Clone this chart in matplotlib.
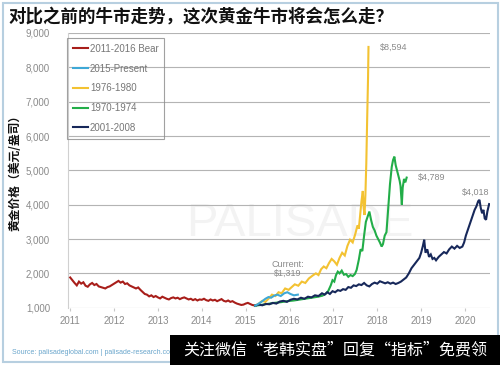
import matplotlib
matplotlib.use("Agg")
import matplotlib.pyplot as plt
from matplotlib.patches import Rectangle

plt.rcParams['font.family'] = ['Liberation Sans', 'Noto Sans CJK SC', 'DejaVu Sans']

title = "对比之前的牛市走势，这次黄金牛市将会怎么走？"
ylabel = "黄金价格（美元/盎司）"
source = "Source: palisadeglobal.com | palisade-research.com"
banner = "关注微信“老韩实盘”回复“指标”免费领"

series_names = ["2011-2016 Bear", "2015-Present", "1976-1980", "1970-1974", "2001-2008"]
series_colors = ["#a81e1a", "#3ea8d6", "#f3c232", "#22ad48", "#17285a"]

x_ticks = [2011, 2012, 2013, 2014, 2015, 2016, 2017, 2018, 2019, 2020]
y_ticks = [1000, 2000, 3000, 4000, 5000, 6000, 7000, 8000, 9000]

bear_x = [2011.00, 2011.05, 2011.10, 2011.15, 2011.20, 2011.25, 2011.30, 2011.35, 2011.40, 2011.45,
          2011.50, 2011.55, 2011.60, 2011.65, 2011.70, 2011.75, 2011.80, 2011.85, 2011.90, 2011.95,
          2012.00, 2012.05, 2012.10, 2012.15, 2012.20, 2012.25, 2012.30, 2012.35, 2012.40, 2012.45,
          2012.50, 2012.55, 2012.60, 2012.65, 2012.70, 2012.75, 2012.80, 2012.85, 2012.90, 2012.95,
          2013.00, 2013.05, 2013.10, 2013.15, 2013.20, 2013.25, 2013.30, 2013.35, 2013.40, 2013.45,
          2013.50, 2013.55, 2013.60, 2013.65, 2013.70, 2013.75, 2013.80, 2013.85, 2013.90, 2013.95,
          2014.00, 2014.05, 2014.10, 2014.15, 2014.20, 2014.25, 2014.30, 2014.35, 2014.40, 2014.45,
          2014.50, 2014.55, 2014.60, 2014.65, 2014.70, 2014.75, 2014.80, 2014.85, 2014.90, 2014.95,
          2015.00, 2015.05, 2015.10, 2015.15, 2015.22]
bear_y = [1880, 1800, 1720, 1650, 1760, 1700, 1740, 1640, 1610, 1680,
          1720, 1660, 1690, 1620, 1600, 1580, 1560, 1600, 1620, 1660,
          1700, 1740, 1780, 1730, 1760, 1690, 1710, 1650, 1620, 1590,
          1560, 1590, 1520, 1460, 1400, 1380, 1330, 1360, 1310, 1340,
          1300, 1270, 1320, 1290, 1260, 1240, 1280, 1300, 1270, 1290,
          1250, 1280, 1300, 1270, 1240, 1260, 1220, 1250, 1210, 1240,
          1230, 1260, 1220, 1200, 1240, 1210, 1230, 1190, 1220, 1250,
          1200, 1180, 1210, 1170, 1190, 1150, 1120, 1100, 1080, 1090,
          1120, 1140, 1110, 1080, 1060]

present_x = [2015.22, 2015.30, 2015.38, 2015.45, 2015.52, 2015.58, 2015.65, 2015.72, 2015.80,
             2015.88, 2015.95, 2016.02, 2016.10, 2016.19]
present_y = [1060, 1120, 1190, 1260, 1310, 1290, 1350, 1380, 1340, 1420, 1450, 1400, 1360, 1380]

y7680_x = [2015.22, 2015.30, 2015.38, 2015.45, 2015.52, 2015.60, 2015.68, 2015.75, 2015.82, 2015.90,
           2015.98, 2016.05, 2016.12, 2016.20, 2016.28, 2016.36, 2016.44, 2016.52, 2016.60, 2016.66,
           2016.72, 2016.78, 2016.84, 2016.90, 2016.96, 2017.02, 2017.08, 2017.14, 2017.20, 2017.26,
           2017.32, 2017.38, 2017.44, 2017.50, 2017.55, 2017.58, 2017.61, 2017.64, 2017.67, 2017.69,
           2017.71, 2017.73, 2017.75, 2017.77, 2017.79, 2017.80]
y7680_y = [1060, 1120, 1200, 1170, 1260, 1380, 1340, 1450, 1420, 1560,
           1520, 1600, 1680, 1640, 1760, 1720, 1850, 1930, 2000, 1950,
           2120, 2200, 2150, 2300, 2420, 2350, 2250, 2450, 2600, 2520,
           2800, 2980, 2900, 3150, 3400, 3300, 3700, 4100, 4400, 3900,
           3700, 4300, 5200, 6500, 7700, 8594]

y7074_x = [2015.22, 2015.35, 2015.50, 2015.65, 2015.80, 2015.95, 2016.10, 2016.25, 2016.40, 2016.55,
           2016.65, 2016.75, 2016.82, 2016.88, 2016.94, 2016.98, 2017.02, 2017.06, 2017.10, 2017.14,
           2017.19, 2017.24, 2017.29, 2017.34, 2017.39, 2017.44, 2017.49, 2017.53, 2017.58, 2017.62,
           2017.66, 2017.70, 2017.74, 2017.78, 2017.82, 2017.86, 2017.90, 2017.94, 2017.98, 2018.02,
           2018.06, 2018.10, 2018.13, 2018.17, 2018.21, 2018.25, 2018.29, 2018.33, 2018.36, 2018.39,
           2018.42, 2018.45, 2018.48, 2018.51, 2018.53, 2018.56, 2018.58, 2018.61, 2018.64, 2018.67]
y7074_y = [1060, 1080, 1110, 1140, 1160, 1190, 1210, 1240, 1270, 1300,
           1320, 1350, 1400, 1480, 1650, 1800, 1760, 1950, 2050, 2000,
           2080, 1960, 1980, 1900, 1950, 1920, 1980, 2100, 2400, 2700,
           2650, 3100, 3500, 3650, 3800, 3550, 3350, 3250, 3100, 3000,
           2900, 2780, 2850, 3100, 3200, 3900, 4600, 5100, 5300, 5400,
           5150, 5000, 4850, 4700, 4550, 4000, 4500, 4750, 4650, 4789]

y0108_x = [2015.22, 2015.30, 2015.38, 2015.46, 2015.54, 2015.62, 2015.70, 2015.78, 2015.86, 2015.94,
           2016.02, 2016.10, 2016.18, 2016.26, 2016.34, 2016.42, 2016.50, 2016.58, 2016.66, 2016.74,
           2016.80, 2016.86, 2016.92, 2016.98, 2017.04, 2017.10, 2017.16, 2017.22, 2017.28, 2017.34,
           2017.40, 2017.46, 2017.52, 2017.58, 2017.64, 2017.70, 2017.76, 2017.82, 2017.88, 2017.94,
           2018.00, 2018.06, 2018.12, 2018.18, 2018.24, 2018.30, 2018.36, 2018.42, 2018.48, 2018.54,
           2018.60, 2018.66, 2018.72, 2018.78, 2018.84, 2018.90, 2018.96, 2019.00, 2019.04, 2019.07,
           2019.10, 2019.14, 2019.18, 2019.22, 2019.26, 2019.30, 2019.34, 2019.40, 2019.46, 2019.52,
           2019.58, 2019.64, 2019.70, 2019.76, 2019.82, 2019.88, 2019.94, 2019.98, 2020.02, 2020.06,
           2020.10, 2020.14, 2020.18, 2020.22, 2020.26, 2020.30, 2020.33, 2020.36, 2020.39, 2020.42,
           2020.45, 2020.48, 2020.51, 2020.55]
y0108_y = [1060, 1090, 1070, 1110, 1100, 1140, 1120, 1180, 1200, 1170,
           1230, 1260, 1240, 1290, 1260, 1320, 1300, 1360, 1340, 1420,
           1380, 1450, 1400, 1480, 1450, 1510, 1490, 1540, 1520, 1600,
           1580, 1650, 1630, 1680, 1660, 1720, 1650, 1620, 1690, 1730,
           1700, 1770, 1740, 1710, 1740, 1700, 1730, 1690, 1720, 1760,
           1820, 1880, 2000, 2150, 2250, 2350, 2450, 2600, 2800, 2980,
           2600, 2700, 2480, 2550, 2420, 2450, 2380, 2480, 2550, 2620,
           2580, 2700, 2780, 2720, 2800, 2740, 2780, 2900, 3100, 3250,
           3400, 3550, 3700, 3850, 3950, 4100, 4140, 3900, 3750, 3850,
           3600, 3560, 3800, 4018]

fig = plt.figure(figsize=(5.0, 3.65), dpi=100)
fig.patch.set_facecolor("white")
ax = fig.add_axes([0.136, 0.157, 0.844, 0.7526])

# background watermark
ax.text(0.55, 0.305, "PALISADE", transform=ax.transAxes, fontsize=34, color="#f3f3f3",
        ha="center", va="center", zorder=0)

series = [(bear_x, bear_y), (present_x, present_y), (y7680_x, y7680_y),
          (y7074_x, y7074_y), (y0108_x, y0108_y)]
order = [0, 2, 3, 4, 1]
handles = [None] * 5
for i in order:
    xs, ys = series[i]
    ln, = ax.plot(xs, ys, color=series_colors[i], lw=1.5, label=series_names[i], zorder=3,
                  solid_joinstyle="miter")
    handles[i] = ln

ax.set_xlim(2010.95, 2020.57)
ax.set_ylim(1000, 9000)
ax.set_xticks(x_ticks)
ax.set_xticklabels([str(t) for t in x_ticks])
ax.set_yticks(y_ticks)
ax.set_yticklabels([f"{t:,}" for t in y_ticks])
ax.tick_params(axis="y", length=0, pad=13, labelsize=7, labelcolor="#8a8a8a")
ax.tick_params(axis="x", length=2, color="#c8c8c8", pad=4, labelsize=7, labelcolor="#8a8a8a")
ax.grid(axis="y", color="#b4b4b4", lw=0.8, zorder=1)
for s in ["top", "right", "bottom"]:
    ax.spines[s].set_visible(False)
ax.spines["left"].set_color("#d0d0d0")
ax.spines["left"].set_linewidth(0.8)

# annotations
ann_color = "#8a8a8a"
ax.text(2018.05, 8594, "$8,594", color=ann_color, fontsize=6.5, ha="left", va="center")
ax.text(2019.25, 4789, "$4,789", color=ann_color, fontsize=6.5, ha="center", va="center")
ax.text(2020.25, 4370, "$4,018", color=ann_color, fontsize=6.5, ha="center", va="center")
ax.text(2015.95, 2130, "Current:\n$1,319", color=ann_color, fontsize=6.5, ha="center",
        va="center", linespacing=1.1)

leg = ax.legend(handles=handles, labels=series_names, loc="upper left",
                bbox_to_anchor=(0.134, 0.896), bbox_transform=fig.transFigure,
                fontsize=7, frameon=True, fancybox=False, handlelength=1.6,
                handletextpad=0.15, labelspacing=1.0, borderpad=0.6, borderaxespad=0)
leg.get_frame().set_edgecolor("#8a8a8a")
leg.get_frame().set_facecolor("none")
leg.get_frame().set_linewidth(0.8)
for t in leg.get_texts():
    t.set_color("#777777")

fig.text(0.016, 0.956, title, fontsize=12.6, fontweight="bold", color="#111111",
         ha="left", va="center", family=["Noto Sans CJK SC", "DejaVu Sans"])
fig.text(0.03, 0.535, ylabel, fontsize=8.5, fontweight="bold", color="#111111", rotation=90,
         ha="center", va="center", family=["Noto Sans CJK SC", "DejaVu Sans"])
fig.text(0.024, 0.035, source, fontsize=5, color="#6aa6cc", ha="left", va="center")

# figure frame
fig.patches.append(Rectangle((0.005, 0.007), 0.99, 0.986, transform=fig.transFigure,
                             fill=False, edgecolor="#b7cfe0", lw=1.5, zorder=5))
# banner overlay
fig.patches.append(Rectangle((0.34, 0.0), 0.66, 0.082, transform=fig.transFigure,
                             facecolor="black", edgecolor="none", zorder=6))
fig.text(0.67, 0.041, banner, fontsize=11.5, color="white", ha="center", va="center",
         zorder=7, family=["Noto Sans CJK SC", "DejaVu Sans"])

fig.savefig("out.png", dpi=100)
